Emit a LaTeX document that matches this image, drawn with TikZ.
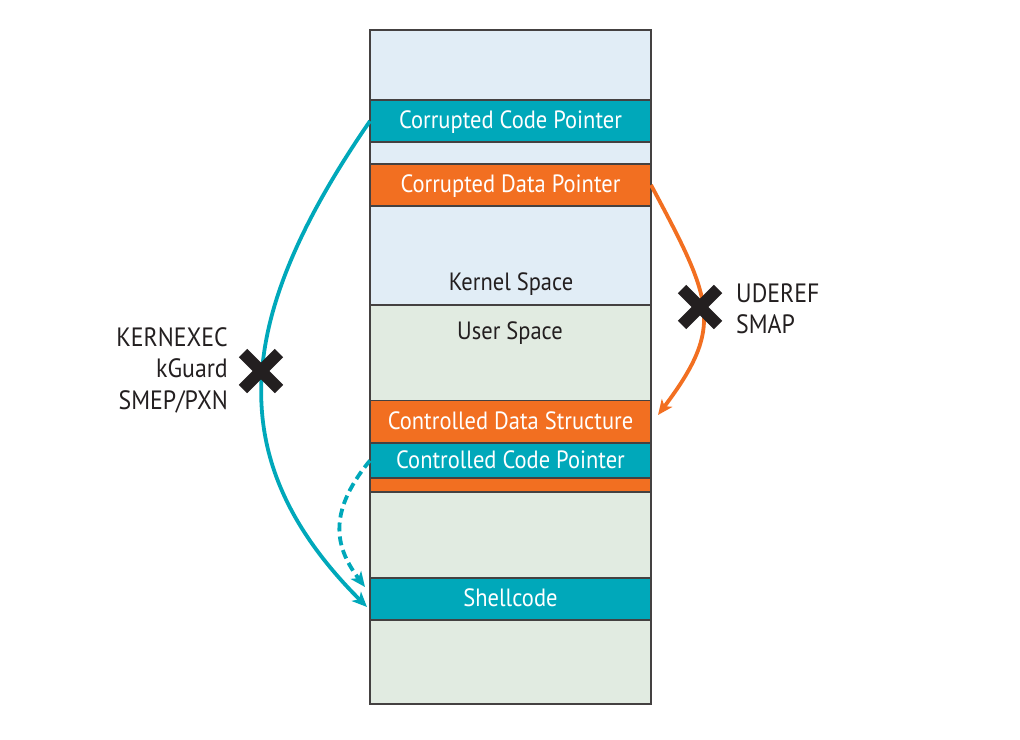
\documentclass[tikz,border=0pt]{standalone}
\usepackage{fontspec}
\setmainfont[FakeStretch=0.9]{PT Sans}
\usetikzlibrary{arrows.meta}
\definecolor{teal}{HTML}{00A8BA}
\definecolor{orng}{HTML}{F26F21}
\definecolor{kblue}{HTML}{E1EDF6}
\definecolor{ugreen}{HTML}{E1EBE1}
\definecolor{ink}{HTML}{231F20}
\tikzset{
  region/.style={draw=ink!85, line width=1.2pt, minimum width=281, inner sep=0, outer sep=0},
  bar/.style={region, text=white, font=\fontsize{25}{27}\selectfont, text depth=2pt},
  rlbl/.style={text=ink, font=\fontsize{25}{27}\selectfont, inner sep=0},
  lbl/.style={text=ink, font=\fontsize{26.5}{31.5}\selectfont, inner sep=0},
  arr/.style={line width=3.8pt, -{Stealth[length=15pt,width=13pt,inset=4pt]}},
  xmark/.style={line width=12pt, ink},
}
\begin{document}
\begin{tikzpicture}[x=1pt,y=-1pt]
\useasboundingbox (0,0) rectangle (1020,739);
% regions
\node[region, fill=kblue, minimum height=275] (kernel) at (510.5,167.5) {};
\node[region, fill=ugreen, minimum height=399] (user) at (510.5,504.5) {};
% bars
\node[bar, fill=teal, minimum height=42] (ccp) at (510.5,121) {Corrupted Code Pointer};
\node[bar, fill=orng, minimum height=42] (cdp) at (510.5,185) {Corrupted Data Pointer};
\node[bar, fill=orng, minimum height=14] (strip) at (510.5,485) {};
\node[bar, fill=orng, minimum height=42] (cds) at (510.5,421.5) {Controlled Data Structure};
\node[bar, fill=teal, minimum height=35] (ctp) at (510.5,460.5) {Controlled Code Pointer};
\node[bar, fill=teal, minimum height=42] (shell) at (510.5,599) {Shellcode};
% region labels
\node[rlbl] (ks) at (511,284) {Kernel Space};
\node[rlbl] (us) at (510,333) {User Space};
% arrows
\coordinate (e1) at (367,607);
\coordinate (e2) at (365,587);
\coordinate (e3) at (658,415);
\draw[arr, teal] (ccp.west) .. controls (237,314) and (217,457) .. (e1);
\draw[arr, teal, dash pattern=on 9pt off 5pt] (ctp.west) .. controls (325,515) and (337,550) .. (e2);
\draw[arr, orng] (cdp.east) .. controls (713,301) and (725,326) .. (e3);
% crosses
\coordinate (x1) at (261,371);
\coordinate (x2) at (700,307);
\draw[xmark] ([shift={(-18,-18)}]x1) -- ([shift={(18,18)}]x1);
\draw[xmark] ([shift={(-18,18)}]x1) -- ([shift={(18,-18)}]x1);
\draw[xmark] ([shift={(-18,-18)}]x2) -- ([shift={(18,18)}]x2);
\draw[xmark] ([shift={(-18,18)}]x2) -- ([shift={(18,-18)}]x2);
% labels
\node[lbl, anchor=east, align=right] (l1) at (228,370) {KERNEXEC\\kGuard\\SMEP/PXN};
\node[lbl, anchor=west, align=left] (l2) at (736,309) {UDEREF\\SMAP};
\end{tikzpicture}
\end{document}
